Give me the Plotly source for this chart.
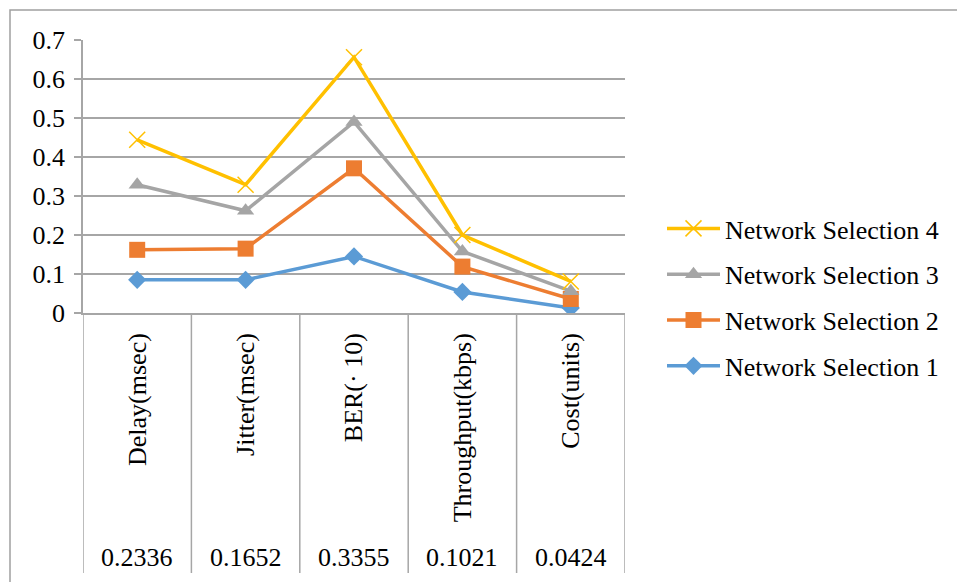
import plotly.graph_objects as go

categories = ["Delay(msec)", "Jitter(msec)", "BER(\u00b7 10)", "Throughput(kbps)", "Cost(units)"]
weights = ["0.2336", "0.1652", "0.3355", "0.1021", "0.0424"]
ns1 = [0.085, 0.085, 0.145, 0.054, 0.013]
ns2 = [0.162, 0.165, 0.371, 0.119, 0.036]
ns3 = [0.329, 0.262, 0.490, 0.158, 0.056]
ns4 = [0.444, 0.329, 0.656, 0.200, 0.081]
y_ticks = [0, 0.1, 0.2, 0.3, 0.4, 0.5, 0.6, 0.7]

FONT = "Liberation Serif"
GRID = "#a6a6a6"

W, H = 957, 582
L, R, T, B = 83, 332, 40, 269
PH = H - T - B


def py(p):
    return (H - B - p) / PH


def px(p):
    return (p - L) / (W - L - R)


fig = go.Figure()
series = [
    ("Network Selection 1", ns1, "#5B9BD5", dict(symbol="diamond", size=14)),
    ("Network Selection 2", ns2, "#ED7D31", dict(symbol="square", size=16)),
    ("Network Selection 3", ns3, "#A5A5A5", dict(symbol="triangle-up", size=15)),
    ("Network Selection 4", ns4, "#FFC000", dict(symbol="x-thin", size=16)),
]
for idx, (name, vals, col, mk) in enumerate(series):
    marker = dict(color=col, **mk)
    if mk["symbol"] == "x-thin":
        marker["line"] = dict(color=col, width=1.5)
    else:
        marker["line"] = dict(width=0)
    fig.add_trace(go.Scatter(
        x=categories, y=vals, name=name, mode="lines+markers",
        line=dict(color=col, width=3.5), marker=marker,
        legendgroup=name, legendrank=1000 - idx,
    ))

shapes = []
# outer chart border (left and top visible)
shapes.append(dict(type="rect", xref="paper", yref="paper",
                   x0=px(10), x1=px(1000), y0=py(620), y1=py(10),
                   line=dict(color="#a0a0a0", width=1.5), layer="below"))
# table vertical separators
for i in range(len(categories) + 1):
    shapes.append(dict(type="line", xref="x", yref="paper",
                       x0=i - 0.5, x1=i - 0.5, y0=0, y1=py(573),
                       line=dict(color=GRID, width=1.5)))

annotations = []
for i, w in enumerate(weights):
    annotations.append(dict(xref="x", yref="paper", x=i, y=py(557),
                            text=w, showarrow=False, yanchor="middle",
                            font=dict(family=FONT, size=26, color="black")))

fig.update_layout(
    width=W, height=H,
    margin=dict(l=L, r=R, t=T, b=B, pad=0),
    paper_bgcolor="white", plot_bgcolor="white",
    font=dict(family=FONT, size=26, color="black"),
    showlegend=True,
    legend=dict(x=px(662), y=py(205), xanchor="left", yanchor="top",
                traceorder="grouped", tracegroupgap=9,
                font=dict(family=FONT, size=26, color="black"),
                itemwidth=53, bgcolor="rgba(0,0,0,0)"),
    shapes=shapes, annotations=annotations,
)
fig.update_xaxes(
    type="category", showgrid=False, showline=True, linecolor=GRID, linewidth=1.5,
    ticks="", tickangle=-90, ticklabelstandoff=8,
    tickfont=dict(family=FONT, size=26, color="black"),
    range=[-0.5, len(categories) - 0.5], zeroline=False,
)
fig.update_yaxes(
    range=[0, 0.7], tickvals=y_ticks, ticktext=[f"{v:g}" for v in y_ticks],
    showgrid=True, gridcolor=GRID, gridwidth=1.5,
    showline=True, linecolor=GRID, linewidth=1.5,
    ticks="outside", ticklen=7, tickcolor=GRID, tickwidth=1.5,
    ticklabelstandoff=4, zeroline=False,
    tickfont=dict(family=FONT, size=26, color="black"),
)

fig.write_html("out.html")
